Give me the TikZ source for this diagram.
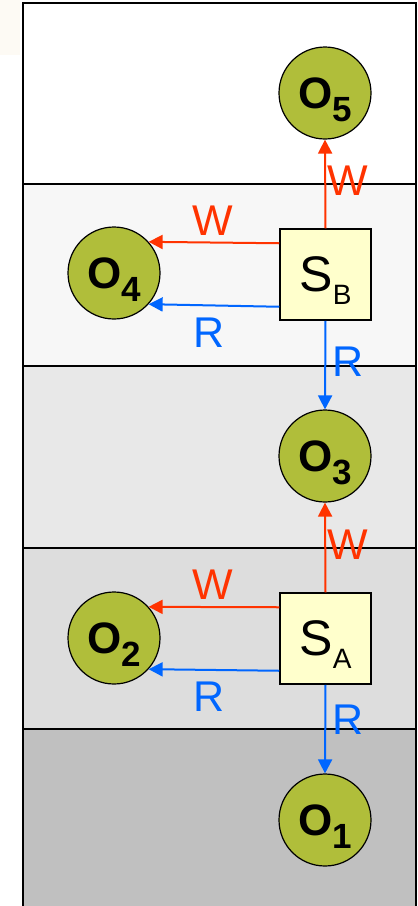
\documentclass[tikz,border=0pt]{standalone}
\usepackage{fontspec}
\setmainfont{Liberation Sans}
\usepackage{xcolor}
\usetikzlibrary{arrows.meta}

\definecolor{objgreen}{HTML}{B0BE3A}
\definecolor{subjyellow}{HTML}{FFFFCC}
\definecolor{wred}{HTML}{FF3300}
\definecolor{rblue}{HTML}{0066FF}
\definecolor{bandA}{HTML}{F7F7F7}
\definecolor{bandB}{HTML}{E8E8E8}
\definecolor{bandC}{HTML}{DDDDDD}
\definecolor{bandD}{HTML}{C0C0C0}
\definecolor{corner}{HTML}{FDFAF4}

% lowered subscript that does not change the box depth
\newcommand{\lowsub}[2]{\smash{\raisebox{-13pt}{\fontsize{#1}{#1}\selectfont #2}}}

\begin{document}
\begin{tikzpicture}[x=1pt, y=-1pt,
    obj/.style={circle, draw, line width=1.2pt, fill=objgreen, minimum size=92pt, inner sep=0pt, font=\fontsize{44}{44}\selectfont\bfseries},
    subj/.style={draw, line width=1.5pt, fill=subjyellow, minimum size=91pt, inner sep=0pt, font=\fontsize{50}{50}\selectfont},
    wr/.style={draw=wred, line width=2pt, -{Triangle[length=14pt,width=14pt]}},
    rd/.style={draw=rblue, line width=2pt, -{Triangle[length=14pt,width=14pt]}},
    lbl/.style={inner sep=0pt, font=\fontsize{43}{43}\selectfont}]
    \useasboundingbox (0,0) rectangle (418,906);
    \fill[corner] (0,0) rectangle (20,55);

    % security levels
    \fill[white] (23,3) rectangle (416,184);
    \fill[bandA] (23,184) rectangle (416,366);
    \fill[bandB] (23,366) rectangle (416,548);
    \fill[bandC] (23,548) rectangle (416,729);
    \fill[bandD] (23,729) rectangle (416,912);
    \draw[line width=1.5pt] (23,912) -- (23,3) -- (416,3) -- (416,912);
    \foreach \y in {184,366,548,729}
      \draw[line width=2pt] (23,\y) -- (416,\y);

    % objects and subjects
    \node[obj] (o5) at (325,93) {O\lowsub{35}{5}};
    \node[obj] (o4) at (114,273) {O\lowsub{35}{4}};
    \node[obj] (o3) at (325,456) {O\lowsub{35}{3}};
    \node[obj] (o2) at (114,638) {O\lowsub{35}{2}};
    \node[obj] (o1) at (325,820) {O\lowsub{35}{1}};
    \node[subj] (sb) at (325.5,274.5) {S\lowsub{28}{B}};
    \node[subj] (sa) at (325.5,638.5) {S\lowsub{28}{A}};

    % accesses of S_B
    \draw[wr] (sb.north) -- (o5.south);
    \draw[wr] ([yshift=-15pt]sb.north west) -- (o4.42);
    \draw[rd] ([yshift=14pt]sb.south west) -- (o4.-42);
    \draw[rd] (sb.south) -- (o3.north);
    \node[lbl, text=wred] (wb1) at (348,181) {W};
    \node[lbl, text=wred] (wb2) at (213,221) {W};
    \node[lbl, text=rblue] (rb2) at (209,333) {R};
    \node[lbl, text=rblue] (rb1) at (348,362) {R};

    % accesses of S_A
    \draw[wr] (sa.north) -- (o3.south);
    \draw[wr] ([yshift=-15pt]sa.north west) -- (o2.42);
    \draw[rd] ([yshift=14pt]sa.south west) -- (o2.-42);
    \draw[rd] (sa.south) -- (o1.north);
    \node[lbl, text=wred] (wa1) at (348,545) {W};
    \node[lbl, text=wred] (wa2) at (213,585) {W};
    \node[lbl, text=rblue] (ra2) at (209,697) {R};
    \node[lbl, text=rblue] (ra1) at (348,720) {R};
  \end{tikzpicture}
\end{document}
